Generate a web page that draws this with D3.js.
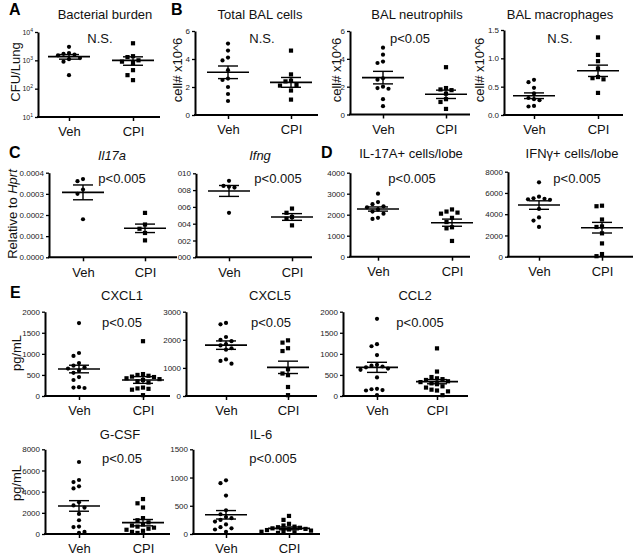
<!DOCTYPE html>
<html>
<head>
<meta charset="utf-8">
<script src="https://cdn.jsdelivr.net/npm/d3@7"></script>
<style>
  body { margin: 0; background: #fff; }
  svg { display: block; font-family: "Liberation Sans", Arial, sans-serif; }
</style>
</head>
<body>
<script>
const groups = ["Veh", "CPI"];

// A - bacterial burden (log scale)
const bacteriaVeh = [3000, 1800, 1700, 1600, 1500, 1200, 1100, 900, 300];
const bacteriaCpi = [4000, 1400, 1300, 1000, 900, 800, 450, 300, 200];
const bacteriaMean = [1350, 1000];
const bacteriaSem = [250, 330];
const bacteriaTicks = [10, 100, 1000, 10000];

// B - BAL cells
const balTotalVeh = [5.1, 4.6, 4.1, 3.9, 3.2, 2.6, 2.5, 2.0, 1.5, 1.0];
const balTotalCpi = [4.6, 2.9, 2.45, 2.4, 2.15, 2.1, 1.75, 1.1];
const balTotalMean = [3.05, 2.33];
const balTotalSem = [0.45, 0.35];

const balNeutroVeh = [4.8, 4.3, 3.8, 3.7, 2.6, 2.5, 2.0, 1.9, 1.85, 1.1, 0.6];
const balNeutroCpi = [3.4, 1.9, 1.8, 1.75, 1.5, 1.1, 0.9, 0.4];
const balNeutroMean = [2.65, 1.45];
const balNeutroSem = [0.45, 0.3];

const balMacroVeh = [0.62, 0.58, 0.48, 0.38, 0.3, 0.28, 0.26, 0.16, 0.15];
const balMacroCpi = [1.37, 1.06, 0.95, 0.82, 0.67, 0.65, 0.63, 0.39];
const balMacroMean = [0.34, 0.78];
const balMacroSem = [0.05, 0.1];
const balCellTicks = [0, 2, 4, 6];
const balMacroTicks = [0, 0.5, 1.0, 1.5];

// C - qPCR relative to Hprt
const il17aVeh = [0.00037, 0.00036, 0.00032, 0.0003, 0.00018];
const il17aCpi = [0.00021, 0.000155, 0.000135, 0.000115, 0.00008];
const il17aMean = [0.000307, 0.000137];
const il17aSem = [0.000035, 0.00002];
const il17aTicks = [0, 0.0001, 0.0002, 0.0003, 0.0004];

const ifngVeh = [0.0091, 0.0085, 0.0084, 0.0083, 0.0053];
const ifngCpi = [0.0058, 0.0053, 0.0048, 0.0046, 0.0038];
const ifngMean = [0.0079, 0.0048];
const ifngSem = [0.00065, 0.0004];
const ifngTicks = [0, 0.002, 0.004, 0.006, 0.008, 0.010];
const ifngTickLabels = ["000", "002", "004", "006", "008", "010"];

// D - cells per lobe
const il17CellsVeh = [3000, 2600, 2500, 2400, 2350, 2250, 2150, 2050, 1850, 1800];
const il17CellsCpi = [2250, 2150, 2100, 2050, 1850, 1650, 1400, 1350, 750];
const il17CellsMean = [2270, 1620];
const il17CellsSem = [100, 170];
const il17CellsTicks = [0, 1000, 2000, 3000, 4000];

const ifngCellsVeh = [7000, 5650, 5500, 5450, 5400, 5350, 4500, 3700, 3400, 2800];
const ifngCellsCpi = [4800, 4750, 3500, 2850, 2800, 2200, 1250, 250, 50];
const ifngCellsMean = [4860, 2730];
const ifngCellsSem = [400, 500];
const ifngCellsTicks = [0, 2000, 4000, 6000, 8000];

// E - cytokines pg/mL
const cxcl1Veh = [1730, 1020, 950, 780, 720, 680, 650, 600, 550, 450, 380, 210, 200, 190];
const cxcl1Cpi = [1300, 520, 500, 480, 460, 450, 420, 400, 380, 350, 320, 200, 180, 170, 150, 20];
const cxcl1Mean = [640, 380];
const cxcl1Sem = [90, 80];
const cxcl1Ticks = [0, 500, 1000, 1500, 2000];

const cxcl5Veh = [2600, 2550, 2100, 2000, 1950, 1850, 1800, 1700, 1650, 1300, 1250, 1150];
const cxcl5Cpi = [1980, 1900, 1700, 1600, 950, 800, 740, 320, 30];
const cxcl5Mean = [1810, 1020];
const cxcl5Sem = [150, 220];
const cxcl5Ticks = [0, 1000, 2000, 3000];

const ccl2Veh = [1830, 1230, 1180, 970, 740, 720, 700, 680, 650, 620, 440, 170, 160, 140, 130, 20];
const ccl2Cpi = [1130, 580, 450, 420, 400, 380, 350, 330, 300, 280, 230, 200, 150, 130, 110, 20];
const ccl2Mean = [680, 340];
const ccl2Sem = [120, 50];
const ccl2Ticks = [0, 500, 1000, 1500, 2000];

const gcsfVeh = [6800, 5100, 4900, 4500, 4300, 3000, 2700, 2500, 1900, 1300, 700, 650, 200, 100];
const gcsfCpi = [3300, 2900, 2500, 1500, 1300, 1100, 900, 800, 700, 600, 500, 400, 300, 200, 100];
const gcsfMean = [2650, 1070];
const gcsfSem = [500, 300];
const gcsfTicks = [0, 2000, 4000, 6000, 8000];

const il6Veh = [950, 900, 680, 420, 350, 300, 280, 250, 220, 170, 120, 100, 80, 40];
const il6Cpi = [320, 250, 180, 150, 130, 120, 110, 100, 90, 80, 70, 60, 50, 40, 30, 20];
const il6Mean = [340, 100];
const il6Sem = [75, 25];
const il6Ticks = [0, 500, 1000, 1500];

const W = 640, H = 558;
const svg = d3.select("body").append("svg").attr("width", W).attr("height", H);
svg.append("rect").attr("width", W).attr("height", H).attr("fill", "#fff");

const fmtInt = d3.format("d");

// panel layouts
const panels = [
  { title: "Bacterial burden", tx: 105, ty: 19, note: "N.S.", nx: 100, ny: 43,
    ylab: "CFU/Lung", lx: 20, ly: 72, x0: 38, x1: 160, top: 32, bottom: 117, vx: 69, cx: 133,
    log: true, domain: [10, 10000], ticks: bacteriaTicks,
    veh: bacteriaVeh, cpi: bacteriaCpi, mean: bacteriaMean, sem: bacteriaSem },
  { title: "Total BAL cells", tx: 260, ty: 19, note: "N.S.", nx: 262, ny: 43,
    ylab: "cell# x10^6", lx: 182, ly: 70, x0: 195, x1: 318, top: 31, bottom: 115, vx: 228, cx: 291,
    domain: [0, 6], ticks: balCellTicks, fmt: fmtInt,
    veh: balTotalVeh, cpi: balTotalCpi, mean: balTotalMean, sem: balTotalSem },
  { title: "BAL neutrophils", tx: 417, ty: 19, note: "p<0.05", nx: 410, ny: 43,
    ylab: "cell# x10^6", lx: 341, ly: 70, x0: 350, x1: 470, top: 31, bottom: 114.5, vx: 383, cx: 446,
    domain: [0, 6], ticks: balCellTicks, fmt: fmtInt,
    veh: balNeutroVeh, cpi: balNeutroCpi, mean: balNeutroMean, sem: balNeutroSem },
  { title: "BAL macrophages", tx: 560, ty: 19, note: "N.S.", nx: 560, ny: 43,
    ylab: "cell# x10^6", lx: 484, ly: 70, x0: 504, x1: 623, top: 30, bottom: 115, vx: 534, cx: 598,
    domain: [0, 1.5], ticks: balMacroTicks, fmt: d3.format(".1f"),
    veh: balMacroVeh, cpi: balMacroCpi, mean: balMacroMean, sem: balMacroSem },
  { title: "Il17a", italic: true, tx: 112, ty: 160, note: "p<0.005", nx: 122, ny: 183,
    ylab: "hprt", lx: 17, ly: 214, x0: 49, x1: 177, top: 172.7, bottom: 257.3, vx: 83, cx: 145,
    domain: [0, 0.0004], ticks: il17aTicks, fmt: d3.format(".4f"),
    veh: il17aVeh, cpi: il17aCpi, mean: il17aMean, sem: il17aSem },
  { title: "Ifng", italic: true, tx: 260, ty: 160, note: "p<0.005", nx: 278, ny: 183,
    x0: 196, x1: 312, top: 173.3, bottom: 257.3, vx: 229, cx: 292,
    domain: [0, 0.010], ticks: ifngTicks, fmt: (d, i) => ifngTickLabels[i],
    veh: ifngVeh, cpi: ifngCpi, mean: ifngMean, sem: ifngSem },
  { title: "IL-17A+ cells/lobe", tx: 411, ty: 158, note: "p<0.005", nx: 412, ny: 183,
    x0: 350, x1: 470, top: 172.7, bottom: 256.7, vx: 378, cx: 452,
    domain: [0, 4000], ticks: il17CellsTicks, fmt: fmtInt,
    veh: il17CellsVeh, cpi: il17CellsCpi, mean: il17CellsMean, sem: il17CellsSem },
  { title: "IFNγ+ cells/lobe", tx: 572, ty: 158, note: "p<0.005", nx: 577, ny: 183,
    x0: 508, x1: 633, top: 171.7, bottom: 256.7, vx: 539, cx: 602,
    domain: [0, 8000], ticks: ifngCellsTicks, fmt: fmtInt,
    veh: ifngCellsVeh, cpi: ifngCellsCpi, mean: ifngCellsMean, sem: ifngCellsSem },
  { title: "CXCL1", tx: 122, ty: 300, note: "p<0.05", nx: 122, ny: 327,
    ylab: "pg/mL", lx: 21, ly: 353, x0: 45, x1: 170, top: 311.7, bottom: 396, vx: 79, cx: 143,
    domain: [0, 2000], ticks: cxcl1Ticks, fmt: fmtInt,
    veh: cxcl1Veh, cpi: cxcl1Cpi, mean: cxcl1Mean, sem: cxcl1Sem },
  { title: "CXCL5", tx: 270, ty: 300, note: "p<0.05", nx: 271, ny: 327,
    x0: 186, x1: 317, top: 311.7, bottom: 396, vx: 226, cx: 288,
    domain: [0, 3000], ticks: cxcl5Ticks, fmt: fmtInt,
    veh: cxcl5Veh, cpi: cxcl5Cpi, mean: cxcl5Mean, sem: cxcl5Sem },
  { title: "CCL2", tx: 415, ty: 300, note: "p<0.005", nx: 420, ny: 327,
    x0: 343, x1: 468, top: 311.7, bottom: 396, vx: 377, cx: 437,
    domain: [0, 2000], ticks: ccl2Ticks, fmt: fmtInt,
    veh: ccl2Veh, cpi: ccl2Cpi, mean: ccl2Mean, sem: ccl2Sem },
  { title: "G-CSF", tx: 120, ty: 439, note: "p<0.05", nx: 122, ny: 463,
    ylab: "pg/mL", lx: 21, ly: 483, x0: 45, x1: 170, top: 449.3, bottom: 534, vx: 79, cx: 143,
    domain: [0, 8000], ticks: gcsfTicks, fmt: fmtInt,
    veh: gcsfVeh, cpi: gcsfCpi, mean: gcsfMean, sem: gcsfSem },
  { title: "IL-6", tx: 261, ty: 439, note: "p<0.005", nx: 273, ny: 463,
    x0: 193, x1: 320, top: 449.3, bottom: 534, vx: 226, cx: 289,
    domain: [0, 1500], ticks: il6Ticks, fmt: fmtInt,
    veh: il6Veh, cpi: il6Cpi, mean: il6Mean, sem: il6Sem },
];

const letters = [
  { t: "A", x: 9, y: 15 }, { t: "B", x: 171, y: 15 }, { t: "C", x: 9, y: 158 },
  { t: "D", x: 321, y: 158 }, { t: "E", x: 10, y: 298 },
];

letters.forEach(l => {
  svg.append("text").attr("x", l.x).attr("y", l.y)
    .attr("font-size", 16).attr("font-weight", "bold").text(l.t);
});

// spread overlapping points sideways (like Prism scatter)
function spread(values, y, cx, step) {
  const pts = values.map(v => ({ v, py: y(v) })).sort((a, b) => b.v - a.v);
  const placed = [];
  pts.forEach(p => {
    p.x = cx;
    for (let k = 0; k < 30; k++) {
      const off = k === 0 ? 0 : (k % 2 ? -1 : 1) * Math.ceil(k / 2) * step;
      if (placed.every(q => Math.hypot(q.x - (cx + off), q.py - p.py) >= step)) {
        p.x = cx + off;
        break;
      }
    }
    placed.push(p);
  });
  return placed;
}

panels.forEach(p => {
  const g = svg.append("g");
  const y = (p.log ? d3.scaleLog() : d3.scaleLinear()).domain(p.domain).range([p.bottom, p.top]);
  const x = d3.scalePoint().domain(groups).range([p.vx, p.cx]);

  // title
  g.append("text").attr("x", p.tx).attr("y", p.ty).attr("text-anchor", "middle")
    .attr("font-size", 13).attr("fill", "#111").attr("font-style", p.italic ? "italic" : null).text(p.title);

  // y axis
  const yAxis = d3.axisLeft(y).tickValues(p.ticks).tickSize(3).tickSizeOuter(0).tickPadding(2);
  if (!p.log) yAxis.tickFormat(p.fmt);
  else yAxis.tickFormat("");
  const ya = g.append("g").attr("transform", `translate(${p.x0},0)`).call(yAxis);
  ya.select(".domain").attr("stroke", "#000").attr("stroke-width", 2);
  ya.selectAll(".tick line").attr("stroke", "#000").attr("stroke-width", 1.3);
  ya.selectAll(".tick text").attr("font-size", 8).attr("fill", "#222")
    .attr("font-family", "'Liberation Sans', Arial, sans-serif");
  if (p.log) {
    ya.selectAll(".tick text").each(function (d) {
      const t = d3.select(this);
      t.text("10").attr("font-size", 7);
      t.append("tspan").attr("dy", -3).attr("font-size", 5).text(Math.round(Math.log10(d)));
    });
  }

  // x axis
  g.append("line").attr("x1", p.x0 - 1).attr("x2", p.x1).attr("y1", p.bottom).attr("y2", p.bottom)
    .attr("stroke", "#000").attr("stroke-width", 2);
  const xa = g.append("g").attr("transform", `translate(0,${p.bottom})`)
    .call(d3.axisBottom(x).tickSize(4).tickSizeOuter(0).tickPadding(6));
  xa.select(".domain").remove();
  xa.selectAll(".tick line").attr("stroke", "#000").attr("stroke-width", 1.5);
  xa.selectAll(".tick text").attr("font-size", 13).attr("fill", "#111")
    .attr("font-family", "'Liberation Sans', Arial, sans-serif");

  // y label
  if (p.ylab === "hprt") {
    const t = g.append("text").attr("transform", `translate(${p.lx},${p.ly}) rotate(-90)`)
      .attr("text-anchor", "middle").attr("font-size", 13).attr("fill", "#111");
    t.append("tspan").text("Relative to ");
    t.append("tspan").attr("font-style", "italic").text("Hprt");
  } else if (p.ylab) {
    g.append("text").attr("transform", `translate(${p.lx},${p.ly}) rotate(-90)`)
      .attr("text-anchor", "middle").attr("font-size", 13).attr("fill", "#111").text(p.ylab);
  }

  // significance note
  g.append("text").attr("x", p.nx).attr("y", p.ny).attr("text-anchor", "middle")
    .attr("font-size", 13).attr("fill", "#111").text(p.note);

  // points
  const vehPts = spread(p.veh, y, x("Veh"), 5.5);
  const cpiPts = spread(p.cpi, y, x("CPI"), 5.5);
  g.selectAll("circle.veh").data(vehPts).enter().append("circle")
    .attr("cx", d => d.x).attr("cy", d => d.py).attr("r", 2.1).attr("fill", "#000");
  g.selectAll("rect.cpi").data(cpiPts).enter().append("rect")
    .attr("x", d => d.x - 2.1).attr("y", d => d.py - 2.1).attr("width", 4.2).attr("height", 4.2)
    .attr("fill", "#000");

  // mean and SEM
  groups.forEach((grp, i) => {
    const cx = x(grp);
    const m = p.mean[i], s = p.sem[i];
    g.append("line").attr("x1", cx - 21).attr("x2", cx + 21).attr("y1", y(m)).attr("y2", y(m))
      .attr("stroke", "#000").attr("stroke-width", 1.6);
    g.append("line").attr("x1", cx).attr("x2", cx).attr("y1", y(m + s)).attr("y2", y(m - s))
      .attr("stroke", "#000").attr("stroke-width", 1.4);
    [m + s, m - s].forEach(v => {
      g.append("line").attr("x1", cx - 10).attr("x2", cx + 10).attr("y1", y(v)).attr("y2", y(v))
        .attr("stroke", "#000").attr("stroke-width", 1.4);
    });
  });
});
</script>
</body>
</html>
